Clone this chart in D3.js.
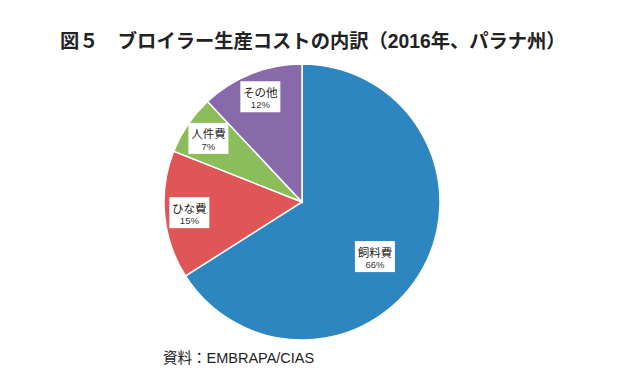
<!DOCTYPE html>
<html><head><meta charset="utf-8">
<script src="https://cdn.jsdelivr.net/npm/d3@7"></script>
<style>body{margin:0;background:#fff;}svg{display:block;}</style>
</head><body>
<script>
const categories = ["飼料費", "ひな費", "人件費", "その他"];
const values = [66, 15, 7, 12];
const percentLabels = ["66%", "15%", "7%", "12%"];
const colors = ["#2E86C1", "#E05656", "#8BBD5B", "#8869AA"];

const W = 630, H = 385;
const svg = d3.select("body").append("svg").attr("width", W).attr("height", H);
const font = "'Liberation Sans', 'Noto Sans CJK JP', sans-serif";
const cjk = "'Noto Sans CJK JP', sans-serif";

svg.append("text").attr("x", 60).attr("y", 48)
  .attr("font-family", font).attr("font-weight", "bold").attr("font-size", 19.3)
  .attr("fill", "#222").text("図５　ブロイラー生産コストの内訳（2016年、パラナ州）");

const cx = 302, cy = 202, R = 138;
const data = categories.map((c, i) => ({name: c, value: values[i], pct: percentLabels[i], color: colors[i]}));
const pie = d3.pie().value(d => d.value).sort(null);
const arc = d3.arc().innerRadius(0).outerRadius(R);
const g = svg.append("g").attr("transform", `translate(${cx},${cy})`);
const arcs = pie(data);
g.selectAll("path").data(arcs).join("path")
  .attr("d", arc).attr("fill", d => d.data.color)
  .attr("stroke", "#fff").attr("stroke-width", 1.5);

// label placement: large slices closer to the centre, small ones near the rim
function labelPos(d) {
  const big = (d.endAngle - d.startAngle) > Math.PI;
  const a = (d.startAngle + d.endAngle) / 2 + (big ? 0.14 : 0);
  const r = big ? R * 0.66 : R * 0.82;
  return [r * Math.sin(a), -r * Math.cos(a)];
}

const lg = g.selectAll("g.lbl").data(arcs).join("g").attr("class", "lbl")
  .attr("transform", d => `translate(${labelPos(d)})`);
lg.append("rect").attr("x", -20).attr("y", -15.5).attr("width", 40).attr("height", 31).attr("fill", "#fff");
lg.append("text").attr("y", 0).attr("text-anchor", "middle")
  .attr("font-family", cjk).attr("font-size", 11.5).attr("fill", "#222").text(d => d.data.name);
lg.append("text").attr("y", 11.5).attr("text-anchor", "middle")
  .attr("font-family", font).attr("font-size", 9.5).attr("fill", "#333").text(d => d.data.pct);

svg.append("text").attr("x", 163).attr("y", 363)
  .attr("font-family", font).attr("font-size", 14.5).attr("fill", "#222").text("資料：EMBRAPA/CIAS");
</script>
</body></html>
